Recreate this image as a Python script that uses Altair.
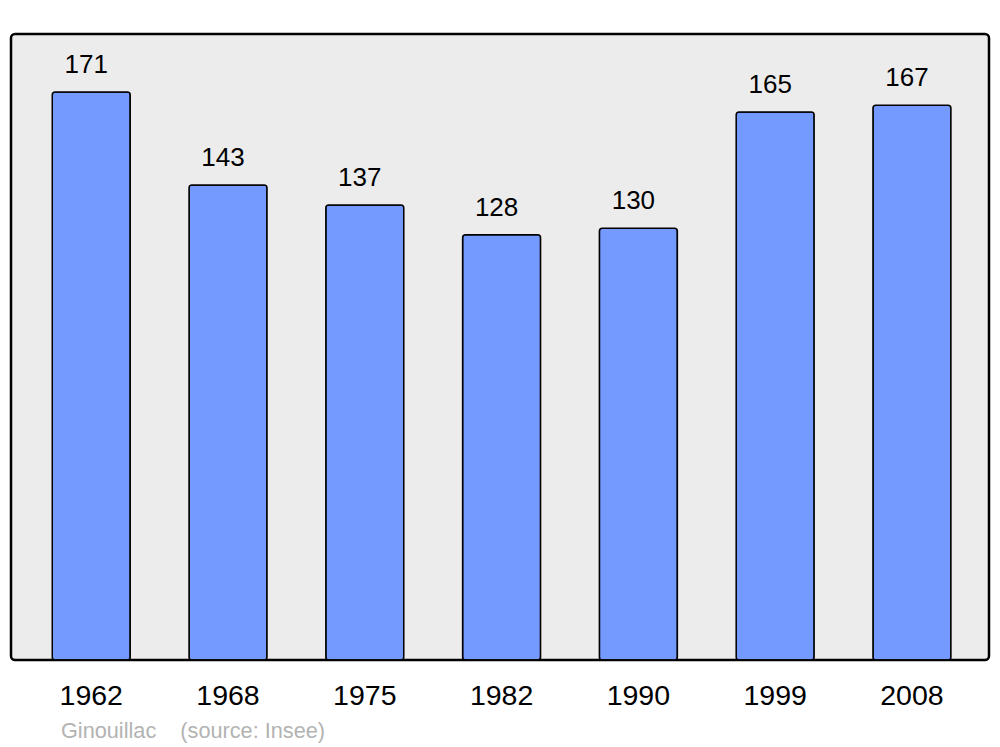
import altair as alt
import pandas as pd

years = ["1962", "1968", "1975", "1982", "1990", "1999", "2008"]
population = [171, 143, 137, 128, 130, 165, 167]
footer_text = ["Ginouillac\u00a0\u00a0\u00a0\u00a0(source: Insee)"]

df = pd.DataFrame({"year": years, "pop": population})

x = alt.X("year:N", sort=years,
          scale=alt.Scale(paddingInner=0.43, paddingOuter=0.29, align=0.52),
          axis=alt.Axis(title=None, domain=False, ticks=False, labelAngle=0,
                        labelFontSize=28.5, labelFont="Liberation Sans",
                        labelColor="black", labelPadding=21, labelBaseline="top"))
y = alt.Y("pop:Q", scale=alt.Scale(domain=[0, 188.46], nice=False, zero=True),
          axis=None)

bars = alt.Chart(df).mark_bar(
    fill="#7499ff", stroke="black", strokeWidth=1.5, cornerRadius=3
).encode(x=x, y=y)

labels = alt.Chart(df).mark_text(
    baseline="alphabetic", dy=-19, dx=-5, fontSize=26,
    font="Liberation Sans", color="black"
).encode(x=x, y=y, text="pop:Q")

footer = alt.Chart(pd.DataFrame({"t": footer_text})).mark_text(
    align="left", baseline="alphabetic", fontSize=21.7,
    font="Liberation Sans", color="#b3b3b3"
).encode(x=alt.value(50), y=alt.value(704), text="t:N")

chart = alt.layer(bars, labels, footer).properties(
    width=978, height=626,
    padding={"left": 3, "top": 26, "right": 3, "bottom": 0},
    background="white"
).configure_view(
    fill="#ececec", stroke="black", strokeWidth=2.5, cornerRadius=4
)

chart.save("out.html", embed_options={"renderer": "svg", "actions": False})
